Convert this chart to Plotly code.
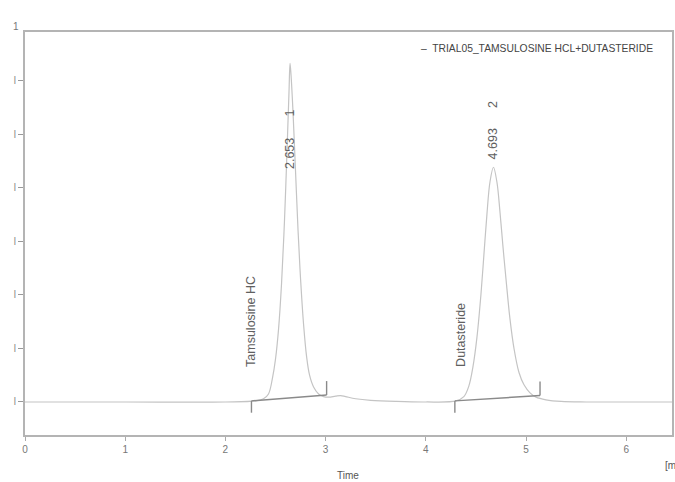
import plotly.graph_objects as go

# Chromatogram signal (time in min, signal in axis units)
time = [0.0, 1.0, 2.0, 2.30, 2.38, 2.43, 2.47, 2.50, 2.53, 2.56, 2.59, 2.615, 2.635, 2.645,
        2.655, 2.675, 2.70, 2.725, 2.75, 2.78, 2.81, 2.84, 2.88, 2.93, 2.98, 3.03, 3.10,
        3.15, 3.20, 3.30, 3.45, 3.70, 4.00, 4.30, 4.38, 4.43, 4.47, 4.51, 4.55, 4.58,
        4.61, 4.64, 4.675, 4.71, 4.74, 4.77, 4.80, 4.84, 4.88, 4.93, 4.98, 5.04, 5.10,
        5.20, 5.35, 5.60, 6.00, 6.50]
signal = [0.0, 0.0, 0.0, 0.02, 0.06, 0.15, 0.45, 0.80, 1.35, 2.20, 3.40, 4.70, 5.80, 6.32,
          6.10, 5.40, 4.30, 3.20, 2.30, 1.45, 0.85, 0.50, 0.28, 0.15, 0.10, 0.09, 0.11,
          0.12, 0.10, 0.06, 0.03, 0.01, 0.0, 0.02, 0.10, 0.30, 0.65, 1.20, 2.00, 2.75,
          3.50, 4.10, 4.38, 4.10, 3.55, 2.90, 2.30, 1.55, 1.00, 0.55, 0.32, 0.17, 0.09,
          0.04, 0.01, 0.0, 0.0, 0.0]

# Peak annotations and integration baselines
peak_names = ["Tamsulosine HC", "Dutasteride"]
peak_rt_labels = ["2.653", "4.693"]
peak_numbers = ["1", "2"]
peak_apex_time = [2.640, 4.670]
base_start_t = [2.26, 4.29]
base_start_v = [0.02, 0.02]
base_end_t = [3.01, 5.14]
base_end_v = [0.13, 0.12]

x_tick_vals = [0, 1, 2, 3, 4, 5, 6]
x_tick_text = ["0", "1", "2", "3", "4", "5", "6"]
y_tick_vals = [0, 1, 2, 3, 4, 5, 6]
y_tick_text = ["l", "l", "l", "l", "l", "l", "l"]

series_name = "TRIAL05_TAMSULOSINE HCL+DUTASTERIDE"

# pixel geometry helpers (plot area 25..672 x 32..435)
X0, X1, Y0, Y1 = 25, 672, 32, 435
XR = [0, 6.457]
YR = [-0.616, 6.903]


def vy(py):
    return YR[0] + (Y1 - py) / (Y1 - Y0) * (YR[1] - YR[0])


def px(xp):
    return (xp - X0) / (X1 - X0)


def py_(yp):
    return (Y1 - yp) / (Y1 - Y0)


fig = go.Figure()
fig.add_trace(go.Scatter(x=time, y=signal, mode="lines", name=series_name,
                         line=dict(color="#c4c4c4", width=1.2), line_shape="spline",
                         showlegend=False, hoverinfo="skip"))

for i in range(len(peak_names)):
    fig.add_trace(go.Scatter(x=[base_start_t[i], base_end_t[i]],
                             y=[base_start_v[i], base_end_v[i]], mode="lines",
                             line=dict(color="#8a8a8a", width=1.4), showlegend=False))
    fig.add_trace(go.Scatter(x=[base_start_t[i], base_start_t[i]],
                             y=[base_start_v[i], base_start_v[i] - 0.22], mode="lines",
                             line=dict(color="#8a8a8a", width=1.4), showlegend=False))
    fig.add_trace(go.Scatter(x=[base_end_t[i], base_end_t[i]],
                             y=[base_end_v[i], base_end_v[i] + 0.26], mode="lines",
                             line=dict(color="#8a8a8a", width=1.4), showlegend=False))

ann = []
lab_font = dict(family="Liberation Sans, Arial", size=12.5, color="#606060")
name_x = [2.25, 4.35]
for i in range(len(peak_names)):
    ann.append(dict(x=name_x[i], y=vy(369), xref="x", yref="y", text=peak_names[i],
                    textangle=-90, showarrow=False, xanchor="center", yanchor="bottom",
                    font=lab_font))
rt_bottom_px = [171, 161]
num_center_px = [113, 104]
for i in range(len(peak_names)):
    ann.append(dict(x=peak_apex_time[i], y=vy(rt_bottom_px[i]), xref="x", yref="y",
                    text=peak_rt_labels[i], textangle=-90, showarrow=False,
                    xanchor="center", yanchor="bottom", font=lab_font))
    ann.append(dict(x=peak_apex_time[i], y=vy(num_center_px[i]), xref="x", yref="y",
                    text=peak_numbers[i], textangle=-90, showarrow=False,
                    xanchor="center", yanchor="middle", font=lab_font))

# legend-like label at top right
ann.append(dict(x=px(419), y=py_(48), xref="paper", yref="paper",
                text="–  " + series_name, showarrow=False, xanchor="left", yanchor="middle",
                font=dict(family="Liberation Sans Narrow, Arial", size=10.3, color="#444444")))

# top y label fragment and axis labels
ann.append(dict(x=px(21), y=py_(26), xref="paper", yref="paper", text="1",
                showarrow=False, xanchor="right", yanchor="middle",
                font=dict(family="Liberation Sans, Arial", size=10, color="#777777")))
ann.append(dict(x=px(348), y=py_(475), xref="paper", yref="paper", text="Time",
                showarrow=False, xanchor="center", yanchor="middle",
                font=dict(family="Liberation Sans, Arial", size=10, color="#555555")))
ann.append(dict(x=px(663), y=py_(465), xref="paper", yref="paper", text="[m",
                showarrow=False, xanchor="left", yanchor="middle",
                font=dict(family="Liberation Sans, Arial", size=10, color="#555555")))

fig.update_layout(
    template="none",
    width=675, height=482,
    margin=dict(l=X0, r=675 - X1, t=Y0, b=482 - Y1, autoexpand=False),
    paper_bgcolor="white", plot_bgcolor="white",
    showlegend=False,
    hovermode=False,
    annotations=ann,
    xaxis=dict(range=XR, tickvals=x_tick_vals, ticktext=x_tick_text, automargin=False,
               ticks="outside", ticklen=4, tickcolor="#aaaaaa", tickwidth=1,
               showline=True, mirror=True, linecolor="#b4b4b4", linewidth=2,
               showgrid=False, zeroline=False,
               tickfont=dict(family="Liberation Sans, Arial", size=10, color="#777777")),
    yaxis=dict(range=YR, tickvals=y_tick_vals, ticktext=y_tick_text, automargin=False,
               ticks="outside", ticklen=5, tickcolor="#999999", tickwidth=1,
               showline=True, mirror=True, linecolor="#b4b4b4", linewidth=2,
               showgrid=False, zeroline=False,
               tickfont=dict(family="Liberation Sans, Arial", size=10, color="#888888")),
)

fig.write_html("out.html", config={"displayModeBar": False},
               post_script="document.body.style.margin='0px';document.body.style.overflow='hidden';")
